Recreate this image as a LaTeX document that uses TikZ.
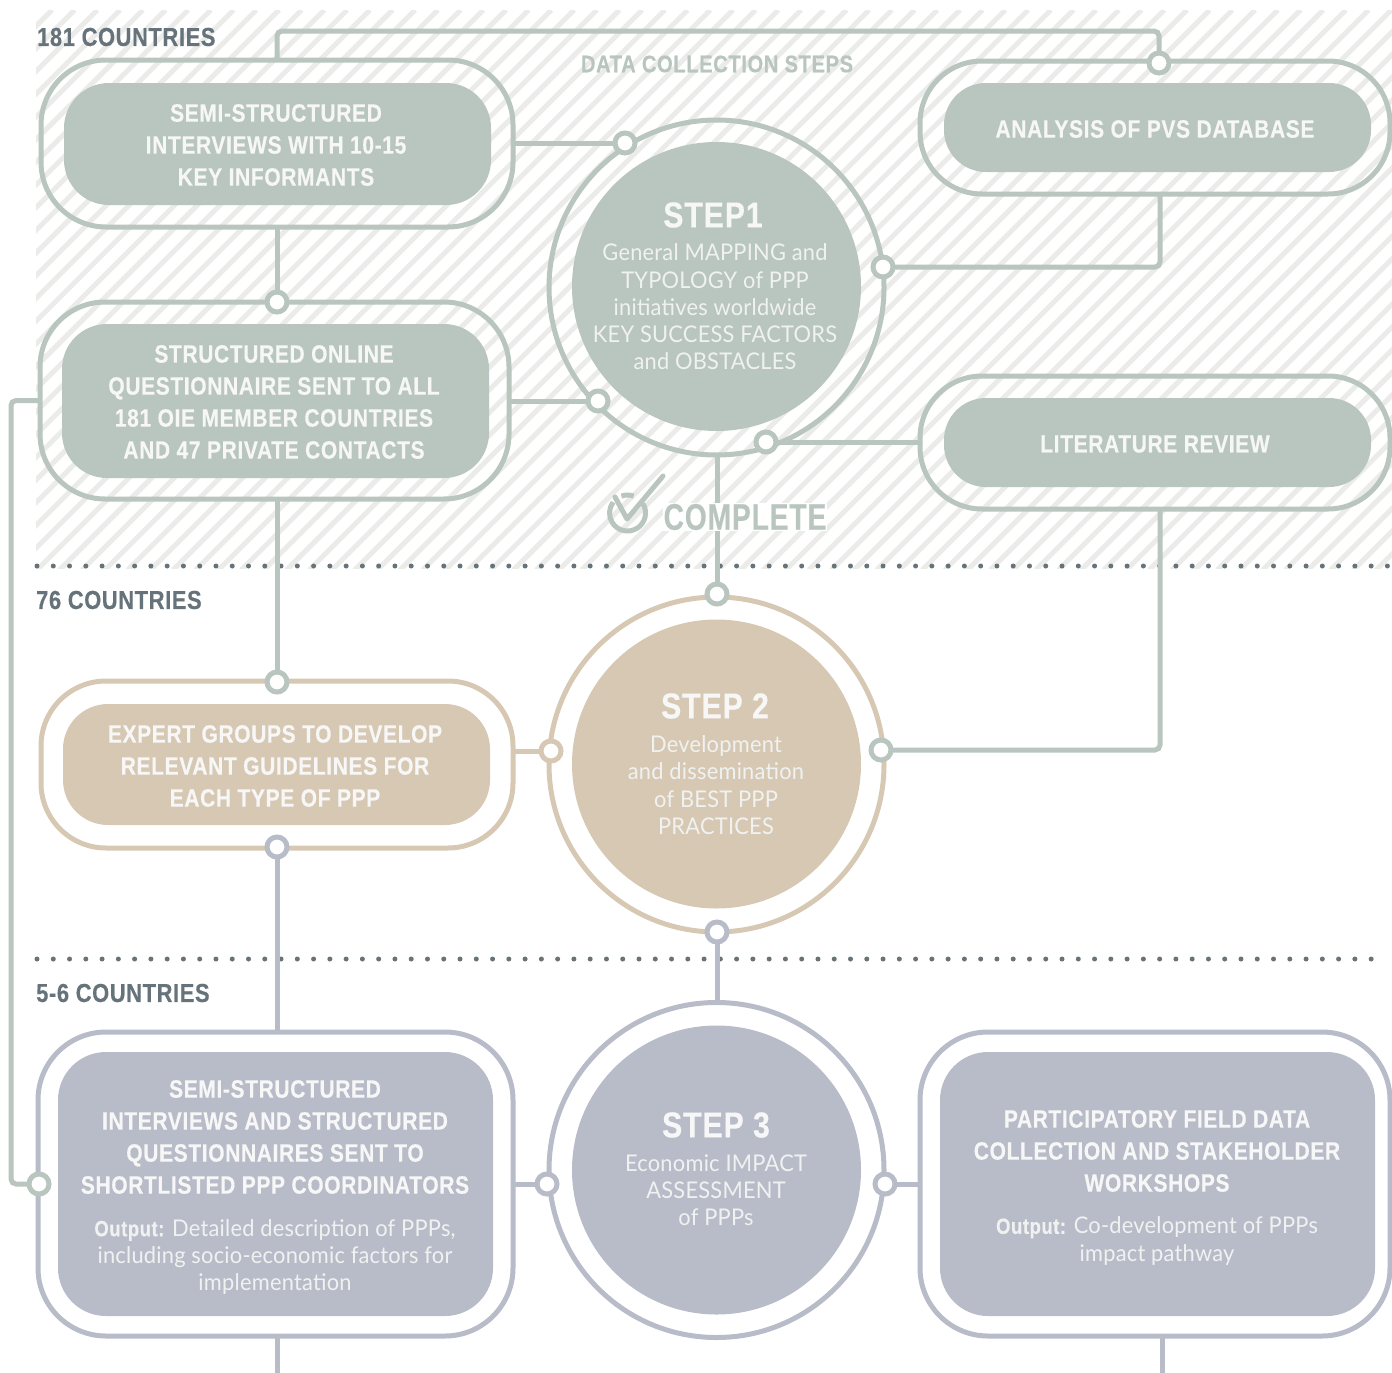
\documentclass[tikz,border=0pt]{standalone}
\usepackage{fontspec}
\setmainfont{Liberation Sans}
\newfontfamily\dinf[FakeStretch=0.84,LetterSpace=2.5,FakeBold=0.4]{Liberation Sans Bold}
\newfontfamily\dinn[FakeStretch=0.76,LetterSpace=2.5,FakeBold=0.4]{Liberation Sans Bold}
\newfontfamily\lightf[FakeStretch=0.95,LetterSpace=1]{Lato}
\definecolor{gr}{HTML}{B9C5BF}
\definecolor{tn}{HTML}{D7C8B3}
\definecolor{bl}{HTML}{B8BCC8}
\definecolor{gy}{HTML}{66737A}
\definecolor{ht}{HTML}{EBEBE9}
\definecolor{wt}{HTML}{F6F7F6}
\definecolor{lt}{HTML}{F0F2F1}
\tikzset{
  ringbox/.style 2 args={draw=#1,line width=5pt,rounded corners=#2,inner sep=0pt,outer sep=0pt,shape=rectangle},
  dims/.style 2 args={minimum width=#1 pt,minimum height=#2 pt},
  fillbox/.style 2 args={fill=#1,rounded corners=#2,inner sep=0pt,outer sep=0pt,shape=rectangle},
  ringc/.style={draw=#1,line width=5pt,circle,inner sep=0pt,outer sep=0pt,minimum size=335pt},
  fillc/.style={fill=#1,circle,inner sep=0pt,outer sep=0pt,minimum size=289pt},
  dotn/.style={draw=#1,fill=white,line width=5pt,circle,inner sep=0pt,outer sep=0pt,minimum size=20pt},
  con/.style={draw=#1,line width=5pt},
  head/.style={font=\dinf\fontsize{25}{32}\selectfont,text=wt,align=center,inner sep=0pt},
  stitle/.style={font=\dinf\fontsize{36}{40}\selectfont,text=wt,align=center,inner sep=0pt},
  body/.style={font=\lightf\fontsize{23}{27.3}\selectfont,text=lt,align=center,inner sep=0pt},
  lab/.style={font=\dinf\fontsize{26}{30}\selectfont,text=gy,inner sep=0pt},
  dotline/.style={draw=gy,line width=5pt,line cap=round,dash pattern=on 0pt off 16.27pt}
}
\begin{document}
\begin{tikzpicture}[x=1pt,y=-1pt]
\useasboundingbox (0,0) rectangle (1392,1373);
% hatch
\begin{scope}
\clip (36,10) rectangle (1392,568);
\foreach \c in {62,84.7,...,1970} \draw[ht,line width=5pt] (\c-10,10) -- (\c-570,570);
\end{scope}
% dotted rules
\coordinate (da) at (37,566); \coordinate (db) at (1392,566);
\coordinate (dc) at (37,959); \coordinate (dd) at (1380,959);
\draw[dotline] (da) -- (db);
\draw[dotline] (dc) -- (dd);
% rings and fills
\node[ringbox={gr}{65pt},dims={472}{167}] (r1) at (277,143.5) {};
\node[fillbox={gr}{45pt},dims={427}{122}] (f1) at (277.5,144) {};
\node[ringbox={gr}{65pt},dims={469}{197}] (r2) at (274.5,400.5) {};
\node[fillbox={gr}{45pt},dims={427}{154}] (f2) at (275.5,401) {};
\node[ringbox={gr}{62pt},dims={470}{133}] (r3) at (1155,127.5) {};
\node[fillbox={gr}{42pt},dims={427}{89}] (f3) at (1157.5,127.5) {};
\node[ringbox={gr}{62pt},dims={470}{133}] (r4) at (1155,442.5) {};
\node[fillbox={gr}{42pt},dims={427}{89}] (f4) at (1157.5,442.5) {};
\node[ringbox={tn}{65pt},dims={472}{167}] (r5) at (277,764.5) {};
\node[fillbox={tn}{45pt},dims={427}{121}] (f5) at (276.5,764.5) {};
\node[ringbox={bl}{68pt},dims={475}{304}] (r6) at (275.5,1184) {};
\node[fillbox={bl}{48pt},dims={435}{264}] (f6) at (275.5,1184) {};
\node[ringbox={bl}{68pt},dims={470}{304}] (r7) at (1155,1184) {};
\node[fillbox={bl}{48pt},dims={435}{264}] (f7) at (1157.5,1184) {};
\node[ringc=gr] (c1) at (716.5,287.5) {};
\node[fillc=gr] (g1) at (716.5,286.5) {};
\node[ringc=tn] (c2) at (716.5,764.5) {};
\node[fillc=tn] (g2) at (716.5,764) {};
\node[ringc=bl] (c3) at (716.5,1170) {};
\node[fillc=bl] (g3) at (716.5,1170) {};
% junction dots
\node[dotn=gr] (j1) at (625,143) {};
\node[dotn=gr] (j2) at (1159,63) {};
\node[dotn=gr] (j3) at (883,267) {};
\node[dotn=gr] (j4) at (277,302) {};
\node[dotn=gr] (j5) at (598,401) {};
\node[dotn=gr] (j6) at (766,442) {};
\node[dotn=gr] (j7) at (717,594) {};
\node[dotn=gr] (j8) at (277,682) {};
\node[dotn=tn] (j9) at (551,751) {};
\node[dotn=gr] (j10) at (881,750) {};
\node[dotn=bl] (j11) at (277,847) {};
\node[dotn=bl] (j12) at (717,932) {};
\node[dotn=bl] (j13) at (547,1184) {};
\node[dotn=bl] (j14) at (885,1184) {};
\node[dotn=gr] (j15) at (39,1184) {};
% connectors
\coordinate (topc) at (700,31);
\coordinate (lft) at (11,800);
\coordinate (be1) at (277,1373);
\coordinate (be2) at (1162,1373);
\draw[con=gr] (r1.east |- j1) -- (j1);
\draw[con=gr,rounded corners=5pt] (r1.north) |- (topc) -| (j2);
\draw[con=gr,rounded corners=5pt] (j3) -| ([xshift=5pt]r3.south);
\draw[con=gr] (r1.south -| j4) -- (j4);
\draw[con=gr] (r2.east |- j5) -- (j5);
\draw[con=gr] (j6) -- (r4.west |- j6);
\draw[con=gr] (c1.south -| j7) -- (j7);
\draw[con=gr] (r2.south -| j8) -- (j8);
\draw[con=tn] (r5.east |- j9) -- (j9);
\draw[con=gr,rounded corners=5pt] (j10) -| ([xshift=5pt]r4.south);
\draw[con=bl] (j11) -- (r6.north -| j11);
\draw[con=bl] (j12) -- (c3.north -| j12);
\draw[con=bl] (r6.east |- j13) -- (j13);
\draw[con=bl] (j14) -- (r7.west |- j14);
\draw[con=gr,rounded corners=5pt] (r2.west) -| (lft) |- (j15);
\draw[con=bl] (r6.south -| be1) -- (be1);
\draw[con=bl] ([xshift=7pt]r7.south) -- (be2);
% labels
\node[lab,anchor=west] (l1) at (37,37) {181 COUNTRIES};
\node[lab,anchor=west] (l2) at (36,600) {76 COUNTRIES};
\node[lab,anchor=west] (l3) at (36,993) {5-6 COUNTRIES};
\node[font=\dinf\fontsize{24}{30}\selectfont,text=gr,inner sep=0pt] (l4) at (717,64) {DATA COLLECTION STEPS};
\node[font=\dinn\fontsize{37}{40}\selectfont,text=gr,fill=white,inner sep=1pt] (l5) at (745,517) {COMPLETE};
% check icon
\coordinate (ck) at (627.5,513);
\draw[gr,line width=5pt] (ck) ++(32:18pt) arc[start angle=32,end angle=-217,radius=18pt];
\draw[gr,line width=5pt] (ck) ++(70:18pt) arc[start angle=70,end angle=110,radius=18pt];
\draw[gr,line width=5pt,line cap=round,line join=round] (615,497) -- (627,519) -- (663,476);
% texts
\node[head] (t1) at (276,145) {SEMI-STRUCTURED\\INTERVIEWS WITH 10-15\\KEY INFORMANTS};
\node[head] (t2) at (274,402) {STRUCTURED ONLINE\\QUESTIONNAIRE SENT TO ALL\\181 OIE MEMBER COUNTRIES\\AND 47 PRIVATE CONTACTS};
\node[head] (t3) at (1155,129) {ANALYSIS OF PVS DATABASE};
\node[head] (t4) at (1155,444) {LITERATURE REVIEW};
\node[head] (t5) at (275,766) {EXPERT GROUPS TO DEVELOP\\RELEVANT GUIDELINES FOR\\EACH TYPE OF PPP};
\node[head] (t6) at (275,1137) {SEMI-STRUCTURED\\INTERVIEWS AND STRUCTURED\\QUESTIONNAIRES SENT TO\\SHORTLISTED PPP COORDINATORS};
\node[body] (o6) at (275,1257) {{\dinf\fontsize{22}{27.3}\selectfont Output:} Detailed description of PPPs,\\including socio-economic factors for\\implementation};
\node[head] (t7) at (1157,1151) {PARTICIPATORY FIELD DATA\\COLLECTION AND STAKEHOLDER\\WORKSHOPS};
\node[body] (o7) at (1157,1241) {{\dinf\fontsize{22}{27.3}\selectfont Output:} Co-development of PPPs\\impact pathway};
\node[stitle] (s1) at (713,215) {STEP1};
\node[body] (b1) at (715,307) {General MAPPING and\\TYPOLOGY of PPP\\initiatives worldwide\\KEY SUCCESS FACTORS\\and OBSTACLES};
\node[stitle] (s2) at (715,706) {STEP 2};
\node[body] (b2) at (716,785) {Development\\and dissemination\\of BEST PPP\\PRACTICES};
\node[stitle] (s3) at (716,1125) {STEP 3};
\node[body] (b3) at (716,1190) {Economic IMPACT\\ASSESSMENT\\of PPPs};
\end{tikzpicture}
\end{document}
